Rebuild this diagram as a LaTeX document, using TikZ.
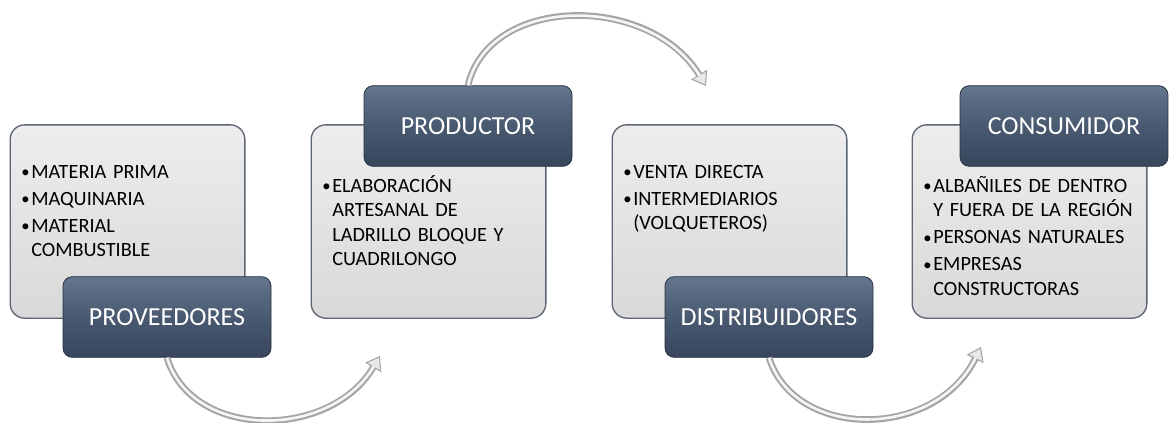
\documentclass[tikz,border=0pt]{standalone}
\usepackage{fontspec}
\setmainfont{Carlito}
\usepackage{xcolor}
\usetikzlibrary{arrows.meta, positioning, calc}

\definecolor{hdrTop}{RGB}{100,118,142}
\definecolor{hdrMid}{RGB}{72,89,112}
\definecolor{hdrBot}{RGB}{56,70,92}
\definecolor{boxEdge}{RGB}{92,102,114}
\definecolor{flowEdge}{RGB}{165,165,165}

\newcommand{\bul}{\hangindent=7.5pt\hangafter=1\makebox[7.5pt][l]{\raisebox{0.4pt}{\fontsize{12.5}{12.5}\selectfont\textbullet}}}

\tikzset{
    itembox/.style={draw=boxEdge, line width=1pt, rounded corners=11pt,
        top color=gray!14, bottom color=gray!30,
        minimum width=176pt, minimum height=145pt},
    titlebox/.style={draw=hdrBot!70!black, line width=0.6pt, rounded corners=7pt,
        top color=hdrTop, bottom color=hdrBot, middle color=hdrMid,
        minimum width=156pt, minimum height=60.5pt, text=white,
        font=\fontsize{19.5}{23}\selectfont},
    itemlist/.style={anchor=base west, inner sep=0pt, text width=168pt, align=left,
        font=\fontsize{15.2}{18.4}\selectfont\setlength{\parskip}{2pt}},
    flow/.style={draw=flowEdge, line width=5pt,
        -{Triangle[width=14pt, length=10pt, line width=0.8pt, fill=gray!18]},
        postaction={draw=white!92!gray, line width=2pt, -, shorten >=9pt}},
}

\begin{document}
\begin{tikzpicture}[x=0.75pt, y=-0.75pt]
    \useasboundingbox (0,0) rectangle (1169,422);

    % cajas de contenido
    \node[itembox] (prov) at (127.5,221.5) {};
    \node[itembox] (prod) at (428.5,221.5) {};
    \node[itembox] (dist) at (729.5,221.5) {};
    \node[itembox] (cons) at (1029.5,221.5) {};

    \node[itemlist] (provL) at (21,178) {\bul MATERIA PRIMA\par\bul MAQUINARIA\par\bul MATERIAL\newline COMBUSTIBLE\par};
    \node[itemlist] (prodL) at (322,192) {\bul ELABORACIÓN\newline ARTESANAL DE\newline LADRILLO BLOQUE Y\newline CUADRILONGO\par};
    \node[itemlist] (distL) at (623,178) {\bul VENTA DIRECTA\par\bul INTERMEDIARIOS\newline (VOLQUETEROS)\par};
    \node[itemlist] (consL) at (923,192) {\bul ALBAÑILES DE DENTRO\newline Y FUERA DE LA REGIÓN\par\bul PERSONAS NATURALES\par\bul EMPRESAS\newline CONSTRUCTORAS\par};

    % titulos
    \node[titlebox] (provT) at (167,317) {PROVEEDORES};
    \node[titlebox] (prodT) at (468,126) {PRODUCTOR};
    \node[titlebox] (distT) at (769,317) {DISTRIBUIDORES};
    \node[titlebox] (consT) at (1064,126) {CONSUMIDOR};

    % flechas
    \coordinate (e1) at (380,356);
    \coordinate (e2) at (706,86);
    \coordinate (e3) at (981,347);
    \draw[flow] (provT.south) .. controls (192,440) and (330,440) .. (e1);
    \draw[flow] (prodT.north) .. controls (490,-6) and (650,-6) .. (e2);
    \draw[flow] (distT.south) .. controls (795,440) and (935,440) .. (e3);
\end{tikzpicture}
\end{document}
